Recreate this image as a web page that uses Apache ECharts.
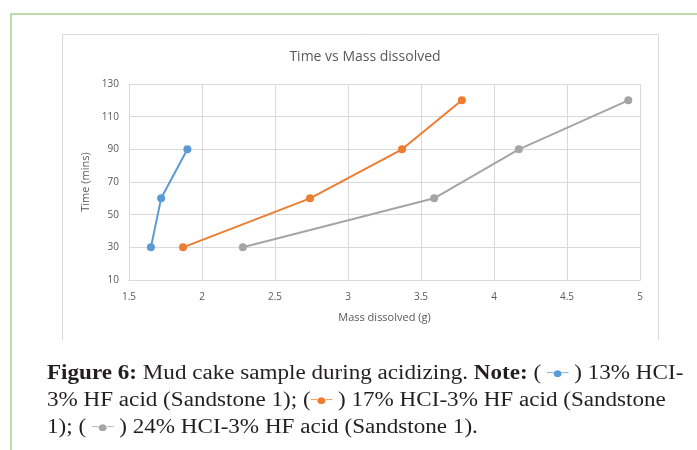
<!DOCTYPE html>
<html>
<head>
<meta charset="utf-8">
<script src="https://cdn.jsdelivr.net/npm/echarts@6/dist/echarts.min.js"></script>
<style>html,body{margin:0;padding:0;background:#fff;}#c{width:697px;height:450px;}</style>
</head>
<body>
<div id="c"></div>
<script>
var seriesNames = ['13% HCI-3% HF acid (Sandstone 1)', '17% HCI-3% HF acid (Sandstone 1)', '24% HCI-3% HF acid (Sandstone 1)'];
var mass13 = [1.65, 1.72, 1.90];
var time13 = [30, 60, 90];
var mass17 = [1.87, 2.74, 3.37, 3.78];
var time17 = [30, 60, 90, 120];
var mass24 = [2.28, 3.59, 4.17, 4.92];
var time24 = [30, 60, 90, 120];
var xTicks = [1.5, 2, 2.5, 3, 3.5, 4, 4.5, 5];
var yTicks = [10, 30, 50, 70, 90, 110, 130];
var colors = ['#5b9bd5', '#ed7d31', '#a5a5a5'];

function pairs(xs, ys) { return xs.map(function (x, i) { return [x, ys[i]]; }); }

var chart = echarts.init(document.getElementById('c'), null, { renderer: 'canvas' });
var sans = '"Open Sans", "Liberation Sans", sans-serif';
var serif = '"Liberation Serif", "DejaVu Serif", serif';
var lbl = '#595959';

function mkSeries(name, xs, ys, color) {
  return {
    name: name, type: 'line', data: pairs(xs, ys),
    symbol: 'circle', symbolSize: 8,
    lineStyle: { color: color, width: 2 },
    itemStyle: { color: color },
    animation: false
  };
}

var rich = {
  bold: { fontFamily: serif, fontSize: 20, fontWeight: 'bold', fill: '#231f20' },
  n: { fontFamily: serif, fontSize: 20, fill: '#231f20' },
  b: { fontFamily: 'DejaVu Sans', fontSize: 9, fill: colors[0] },
  o: { fontFamily: 'DejaVu Sans', fontSize: 9, fill: colors[1] },
  g: { fontFamily: 'DejaVu Sans', fontSize: 9, fill: colors[2] }
};
var capScale = 1.155;

chart.setOption({
  animation: false,
  backgroundColor: '#fff',
  color: colors,
  title: {
    text: 'Time vs Mass dissolved', left: 360, top: 45, textAlign: 'center',
    textStyle: { fontFamily: sans, fontSize: 14, fontWeight: 'normal', color: lbl }
  },
  grid: { left: 129, right: 57, top: 84, bottom: 170, containLabel: false },
  xAxis: {
    type: 'value', min: xTicks[0], max: xTicks[xTicks.length - 1], interval: 0.5,
    name: 'Mass dissolved (g)', nameLocation: 'middle', nameGap: 32,
    nameTextStyle: { fontFamily: sans, fontSize: 11, color: lbl },
    axisLine: { show: true, lineStyle: { color: '#d9d9d9' } },
    axisTick: { show: false },
    axisLabel: { fontFamily: sans, fontSize: 10, color: lbl, margin: 12 },
    splitLine: { show: true, lineStyle: { color: '#d9d9d9' } }
  },
  yAxis: {
    type: 'value', min: yTicks[0], max: yTicks[yTicks.length - 1], interval: 20,
    name: 'Time (mins)', nameLocation: 'middle', nameGap: 34, nameRotate: 90,
    nameTextStyle: { fontFamily: sans, fontSize: 11, color: lbl },
    axisLine: { show: true, lineStyle: { color: '#d9d9d9' } },
    axisTick: { show: false },
    axisLabel: { fontFamily: sans, fontSize: 10, color: lbl, margin: 10 },
    splitLine: { show: true, lineStyle: { color: '#d9d9d9' } }
  },
  series: [
    mkSeries(seriesNames[0], mass13, time13, colors[0]),
    mkSeries(seriesNames[1], mass17, time17, colors[1]),
    mkSeries(seriesNames[2], mass24, time24, colors[2])
  ],
  graphic: [
    { type: 'polyline', silent: true, shape: { points: [[11, 450], [11, 14], [697, 14]] }, style: { stroke: '#a9d18e', lineWidth: 1.5, fill: null } },
    { type: 'polyline', silent: true, shape: { points: [[62.5, 340], [62.5, 34.5], [658.5, 34.5], [658.5, 340]] }, style: { stroke: '#d9d9d9', lineWidth: 1, fill: null } },
    {
      type: 'group', x: 47, y: 364, scaleX: capScale, scaleY: 1,
      children: [
        { type: 'text', x: 0, y: 0, style: { rich: rich, text: '{bold|Figure 6:}{n| Mud cake sample during acidizing. }{bold|Note:}{n| ( }{b|─●─}{n| ) 13% HCI-}' } },
        { type: 'text', x: 0, y: 27, style: { rich: rich, text: '{n|3% HF acid (Sandstone 1); (}{o|─●─}{n| ) 17% HCI-3% HF acid (Sandstone}' } },
        { type: 'text', x: 0, y: 54, style: { rich: rich, text: '{n|1); ( }{g|─●─}{n| ) 24% HCI-3% HF acid (Sandstone 1).}' } }
      ]
    }
  ]
});
</script>
</body>
</html>
